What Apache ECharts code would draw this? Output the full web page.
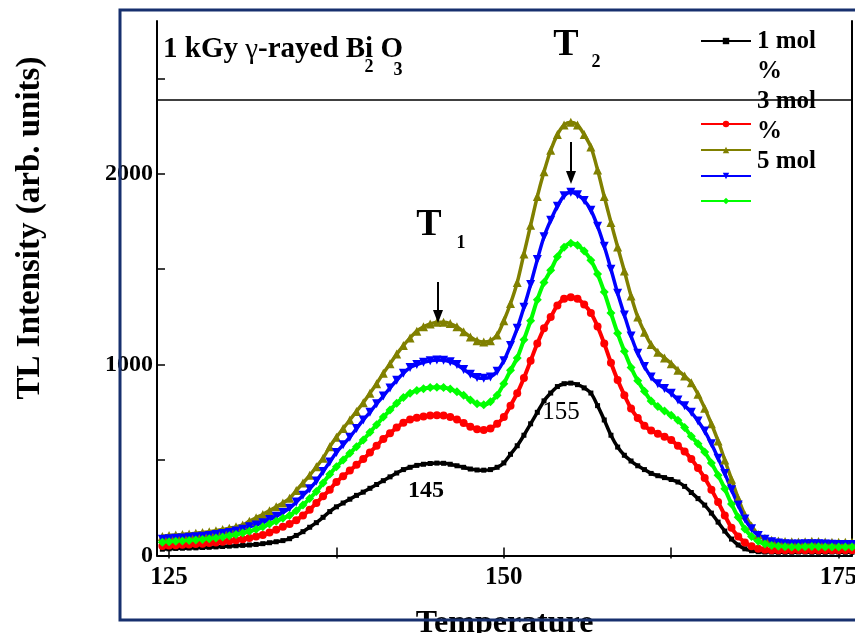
<!DOCTYPE html>
<html>
<head>
<meta charset="utf-8">
<script src="https://cdn.jsdelivr.net/npm/echarts@6/dist/echarts.min.js"></script>
<style>
  html, body { margin: 0; padding: 0; background: #fff; }
  #chart { width: 855px; height: 633px; }
</style>
</head>
<body>
<div id="chart"></div>
<script>
  // temperature axis values (°C)
  var temperature = [
    124.5,125,125.5,126,126.5,127,127.5,128,128.5,129,129.5,130,
    130.5,131,131.5,132,132.5,133,133.5,134,134.5,135,
    135.5,136,136.5,137,137.5,138,138.5,139,139.5,140,
    140.5,141,141.5,142,142.5,143,143.5,144,144.5,145,
    145.5,146,146.5,147,147.5,148,148.5,149,149.5,150,
    150.5,151,151.5,152,152.5,153,153.5,154,154.5,155,
    155.5,156,156.5,157,157.5,158,158.5,159,159.5,160,
    160.5,161,161.5,162,162.5,163,163.5,164,164.5,165,
    165.5,166,166.5,167,167.5,168,168.5,169,169.5,170,
    170.5,171,171.5,172,172.5,173,173.5,174,174.5,175,175.5,176
  ];

  // TL intensity
  var mol1 = [
    33,35,37,38,39,40,42,43,45,47,49,51,
    53,55,58,62,67,72,78,88,105,125,
    148,172,200,230,255,275,295,315,332,352,
    372,392,412,432,450,462,472,478,482,484,
    483,478,470,462,453,448,447,450,462,485,
    530,575,630,690,750,810,851,885,900,903,
    895,878,851,785,710,630,568,525,495,470,
    450,430,418,408,398,385,362,330,298,264,
    222,175,128,86,55,35,25,20,18,18,
    17,17,17,18,18,17,17,17,18,18,17,17
  ];
  var mol3 = [
    50,52,54,56,58,60,62,65,68,72,76,80,
    85,92,99,108,120,135,150,165,185,210,
    240,275,310,345,385,415,445,475,505,540,
    575,610,640,670,695,712,722,728,733,735,
    733,725,712,694,675,662,657,665,690,725,
    785,850,930,1020,1110,1190,1249,1310,1345,1353,
    1345,1315,1270,1200,1110,1010,919,840,770,720,
    680,655,638,622,605,575,545,505,458,406,
    345,280,210,145,100,68,48,36,30,28,
    27,27,28,29,28,27,27,28,28,27,27,27
  ];
  var mol5 = [
    100,105,108,110,113,116,120,124,130,136,143,150,
    160,180,198,215,235,255,275,300,340,380,
    420,465,510,570,620,665,710,755,800,850,
    900,955,1005,1055,1100,1140,1175,1198,1213,1222,
    1222,1215,1198,1172,1145,1125,1118,1125,1155,1230,
    1320,1430,1580,1730,1880,2010,2123,2205,2255,2270,
    2255,2205,2140,2020,1880,1745,1616,1490,1360,1250,
    1170,1105,1065,1035,1005,970,940,905,845,772,
    690,600,500,400,300,212,155,110,90,80,
    76,73,72,71,72,74,73,71,70,70,70,70
  ];
  var blueVals = [
    85,88,90,92,95,98,101,105,110,115,121,128,
    137,150,160,172,188,205,225,248,280,315,
    350,390,440,490,540,580,620,665,710,750,
    795,835,878,918,955,985,1000,1012,1020,1024,
    1023,1015,1000,975,950,932,928,935,965,1020,
    1100,1190,1300,1420,1550,1670,1756,1830,1885,1903,
    1890,1860,1809,1725,1620,1500,1374,1260,1150,1060,
    990,935,900,875,850,815,785,750,705,652,
    585,510,430,345,265,191,140,105,85,72,
    65,62,60,60,61,62,61,60,59,58,58,58
  ];
  var greenVals = [
    70,72,74,76,78,81,84,88,92,97,103,110,
    118,127,137,150,165,180,195,210,235,265,
    298,335,380,425,465,500,535,570,605,645,
    685,725,762,798,828,850,865,874,880,882,
    880,872,858,840,815,795,790,805,840,900,
    970,1035,1130,1230,1340,1430,1494,1565,1615,1636,
    1625,1595,1547,1475,1380,1270,1164,1070,985,915,
    860,810,780,757,735,708,670,625,585,542,
    485,421,350,270,200,139,100,75,60,52,
    48,46,45,45,46,47,46,45,45,44,44,44
  ];

  var xTicks = [125, 150, 175];
  var xMinorTicks = [125, 137.5, 150, 162.5, 175];
  var yTicks = [0, 1000, 2000];
  var yMinorTicks = [0, 500, 1000, 1500, 2000, 2500];
  var seriesNames = ['1 mol %', '3 mol %', '5 mol %', 'blue', 'green'];
  var legendTops = [41, 124, 150, 176, 201];

  var serif = 'Liberation Serif';
  var myChart = echarts.init(document.getElementById('chart'));

  function pairs(vals) {
    return temperature.map(function (t, i) { return [t, vals[i]]; });
  }

  function mkSeries(name, vals, color, symbol, size, width, rotate) {
    return {
      name: name,
      type: 'line',
      data: pairs(vals),
      symbol: symbol,
      symbolSize: size,
      symbolRotate: rotate || 0,
      smooth: 0.3,
      lineStyle: { color: color, width: width },
      itemStyle: { color: color },
      emphasis: { disabled: true },
      animation: false
    };
  }

  var series = [
    mkSeries(seriesNames[0], mol1, '#000000', 'rect', 5, 3.5),
    mkSeries(seriesNames[1], mol3, '#ff0000', 'circle', 8, 4),
    mkSeries(seriesNames[2], mol5, '#808000', 'triangle', 9, 3.5),
    mkSeries(seriesNames[3], blueVals, '#0000ff', 'triangle', 9, 3.5, 180),
    mkSeries(seriesNames[4], greenVals, '#00ff00', 'diamond', 9, 4)
  ];
  // line dividing the label box from the curves
  series[0].markLine = {
    silent: true,
    symbol: 'none',
    label: { show: false },
    lineStyle: { color: '#000', width: 1.5, type: 'solid' },
    data: [{ yAxis: 2390 }]
  };

  var legends = legendTops.map(function (top, i) {
    return {
      data: [seriesNames[i]],
      left: 700,
      top: top - 4,
      padding: 0,
      itemWidth: 50,
      itemHeight: 8,
      selectedMode: false,
      formatter: function () { return ''; }
    };
  });

  function txt(x, y, s, size, weight, align) {
    return {
      type: 'text', x: x, y: y, z: 50,
      style: {
        text: s, fill: '#000',
        font: (weight || 'bold') + ' ' + size + 'px "' + serif + '"',
        textAlign: align || 'center', textVerticalAlign: 'middle'
      }
    };
  }
  function arrow(x, y1, y2) {
    return [
      { type: 'line', z: 50, shape: { x1: x, y1: y1, x2: x, y2: y2 - 8 }, style: { stroke: '#000', lineWidth: 2 } },
      { type: 'polygon', z: 50, shape: { points: [[x - 5, y2 - 13], [x + 5, y2 - 13], [x, y2]] }, style: { fill: '#000' } }
    ];
  }

  var graphics = [
    { type: 'rect', z: 1, shape: { x: 120, y: 10, width: 780, height: 610 },
      style: { fill: 'none', stroke: '#17306e', lineWidth: 3 } },
    {
      type: 'text', x: 30, y: 228, rotation: Math.PI / 2, z: 50,
      style: { text: 'TL Intensity (arb. units)', fill: '#000', font: 'bold 33px "' + serif + '"',
               textAlign: 'center', textVerticalAlign: 'middle' }
    },
    {
      type: 'text', x: 163, y: 50, z: 50,
      style: {
        text: '{b|1 kGy }{g|γ}{b|-rayed Bi O}',
        textVerticalAlign: 'middle',
        rich: {
          b: { font: 'bold 29px "' + serif + '"', fill: '#000' },
          g: { font: '29px "' + serif + '"', fill: '#000' }
        }
      }
    },
    txt(369, 67, '2', 18),
    txt(398, 70, '3', 18),
    txt(429, 225, 'T', 38),
    txt(461, 243, '1', 18),
    txt(566, 45, 'T', 38),
    txt(596, 62, '2', 18),
    txt(426, 491, '145', 24),
    txt(561, 412, '155', 25, 'normal'),
    txt(757, 42, '1 mol', 25, 'bold', 'left'),
    txt(757, 72, '%', 25, 'bold', 'left'),
    txt(757, 102, '3 mol', 25, 'bold', 'left'),
    txt(757, 132, '%', 25, 'bold', 'left'),
    txt(757, 162, '5 mol', 25, 'bold', 'left')
  ].concat(arrow(438, 282, 323)).concat(arrow(571, 142, 184));

  myChart.setOption({
    animation: false,
    backgroundColor: '#fff',
    grid: { left: 157, right: 3, top: 21, bottom: 77.5, containLabel: false, outerBoundsMode: 'none' },
    legend: legends,
    xAxis: [
      {
        type: 'value', min: 124.1, max: 176,
        name: 'Temperature', nameLocation: 'middle', nameGap: 52,
        nameTextStyle: { fontFamily: serif, fontWeight: 'bold', fontSize: 32, color: '#000' },
        axisLine: { lineStyle: { color: '#000', width: 2 } },
        axisTick: { inside: true, length: 8, customValues: xMinorTicks, lineStyle: { color: '#000', width: 1.5 } },
        axisLabel: { customValues: xTicks, margin: 10, fontFamily: serif, fontWeight: 'bold', fontSize: 25, color: '#000' },
        splitLine: { show: false }
      },
      {
        type: 'value', position: 'top', min: 124.1, max: 176,
        axisLine: { show: false },
        axisTick: { inside: true, length: 3, customValues: xMinorTicks, lineStyle: { color: '#000', width: 1.5 } },
        axisLabel: { show: false },
        splitLine: { show: false }
      }
    ],
    yAxis: [
      {
        type: 'value', min: 0, max: 2800,
        axisLine: { show: true, lineStyle: { color: '#000', width: 2 } },
        axisTick: { show: true, inside: true, length: 8, customValues: yMinorTicks, lineStyle: { color: '#000', width: 1.5 } },
        axisLabel: {
          customValues: yTicks, margin: 4, fontFamily: serif, fontWeight: 'bold', fontSize: 24, color: '#000',
          formatter: function (v) { return String(v); }
        },
        splitLine: { show: false }
      },
      {
        type: 'value', min: 0, max: 2800, position: 'right',
        axisLine: { show: true, lineStyle: { color: '#000', width: 2 } },
        axisTick: { show: false },
        axisLabel: { show: false },
        splitLine: { show: false }
      }
    ],
    series: series,
    graphic: graphics
  });
</script>
</body>
</html>
